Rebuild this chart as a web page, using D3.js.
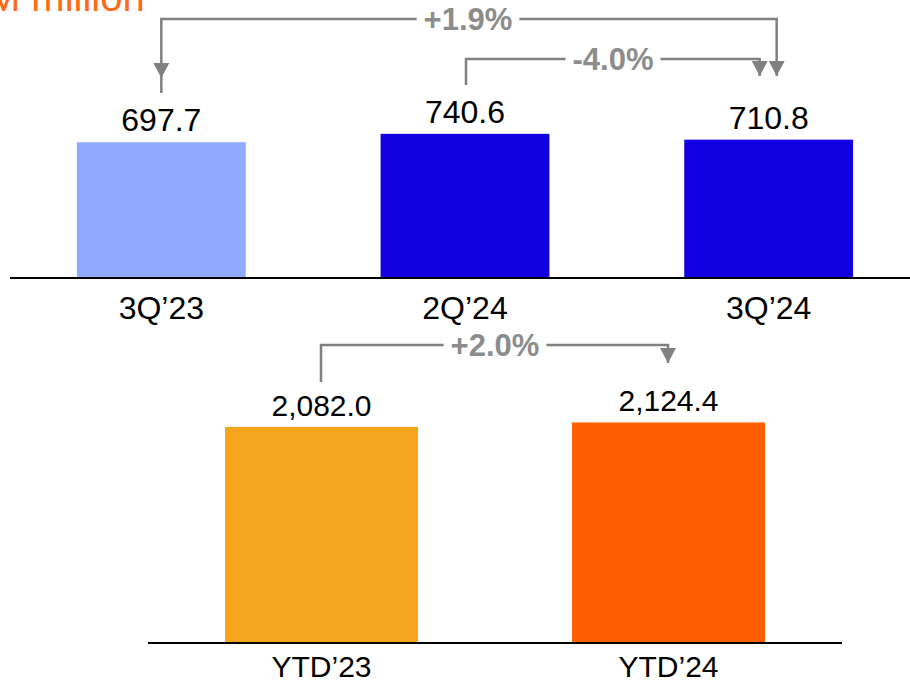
<!DOCTYPE html>
<html>
<head>
<meta charset="utf-8">
<script src="https://cdn.jsdelivr.net/npm/d3@7/dist/d3.min.js"></script>
<style>
  html, body { margin: 0; padding: 0; background: #fff; }
  svg { display: block; }
  text { font-family: Arial, "Liberation Sans", sans-serif; }
</style>
</head>
<body>
<script>
// Quarterly revenue (RM million)
const quarterCategories = ["3Q\u201923", "2Q\u201924", "3Q\u201924"];
const quarterValues = [697.7, 740.6, 710.8];
const quarterColors = ["#90aaff", "#1200e0", "#1200e0"];

// Year-to-date revenue (RM million)
const ytdCategories = ["YTD\u201923", "YTD\u201924"];
const ytdValues = [2082.0, 2124.4];
const ytdColors = ["#f5a41d", "#ff5f00"];

// Change brackets: [from index, to index, label]
const quarterChanges = [
  { from: 0, to: 2, label: "+1.9%" },
  { from: 1, to: 2, label: "-4.0%" }
];
const ytdChanges = [
  { from: 0, to: 1, label: "+2.0%" }
];

const unitLabel = "RM million";

const W = 910, H = 683;
const svg = d3.select("body").append("svg").attr("width", W).attr("height", H);

const fmt = d3.format(",.1f");
const GREY = "#808080";

svg.append("defs").append("marker")
  .attr("id", "arrow")
  .attr("viewBox", "0 0 16 15")
  .attr("refX", 8).attr("refY", 15)
  .attr("markerWidth", 16).attr("markerHeight", 15)
  .attr("markerUnits", "userSpaceOnUse")
  .attr("orient", 0)
  .append("path").attr("d", "M0,0 L16,0 L8,15 Z").attr("fill", GREY);

// Unit title (partly outside the left/top edge)
svg.append("text")
  .attr("x", -42).attr("y", 11)
  .attr("font-size", 40)
  .attr("fill", "#ff6a13")
  .text(unitLabel);

function drawPanel(cfg) {
  const x = d3.scaleBand().domain(cfg.categories)
    .range(cfg.xRange).paddingInner(0.444).paddingOuter(0.222);
  const y = d3.scaleLinear().domain(cfg.yDomain).range(cfg.yRange);
  const g = svg.append("g");

  g.selectAll("rect.bar").data(cfg.values).join("rect")
    .attr("class", "bar")
    .attr("x", (d, i) => x(cfg.categories[i]))
    .attr("width", x.bandwidth())
    .attr("y", d => y(d))
    .attr("height", d => y(0) - y(d))
    .attr("fill", (d, i) => cfg.colors[i]);

  // baseline
  g.append("line")
    .attr("x1", cfg.lineX[0]).attr("x2", cfg.lineX[1])
    .attr("y1", y(0)).attr("y2", y(0))
    .attr("stroke", "#000").attr("stroke-width", 2);

  // value labels
  g.selectAll("text.val").data(cfg.values).join("text")
    .attr("class", "val")
    .attr("x", (d, i) => x(cfg.categories[i]) + x.bandwidth() / 2)
    .attr("y", d => y(d) - 11)
    .attr("text-anchor", "middle")
    .attr("font-size", cfg.fontSize)
    .attr("fill", "#000")
    .text(d => fmt(d));

  // category labels
  g.selectAll("text.cat").data(cfg.categories).join("text")
    .attr("class", "cat")
    .attr("x", d => x(d) + x.bandwidth() / 2)
    .attr("y", y(0) + cfg.catOffset)
    .attr("text-anchor", "middle")
    .attr("font-size", cfg.fontSize)
    .attr("fill", "#000")
    .text(d => d);

  // change brackets
  cfg.changes.forEach((c, k) => {
    const b = cfg.brackets[k];
    const x0 = x(cfg.categories[c.from]) + x.bandwidth() / 2 + b.dx0;
    const x1 = x(cfg.categories[c.to]) + x.bandwidth() / 2 + b.dx1;
    g.append("path")
      .attr("d", `M${x0},${b.y0} V${b.y} H${x1} V${b.y1 - 15}`)
      .attr("fill", "none")
      .attr("stroke", GREY).attr("stroke-width", 2.5)
      .attr("marker-end", "url(#arrow)");
    if (b.startArrow) {
      g.append("path")
        .attr("d", `M${x0},${b.y} V${b.y0 - 15}`)
        .attr("fill", "none").attr("stroke", "none")
        .attr("marker-end", "url(#arrow)");
    }
    const lbl = g.append("text")
      .attr("x", b.lx).attr("y", b.y + 11)
      .attr("text-anchor", "middle")
      .attr("font-size", 31).attr("font-weight", "bold")
      .attr("fill", "#8c8c8c")
      .text(c.label);
    const bb = lbl.node().getBBox();
    g.insert("rect", () => lbl.node())
      .attr("x", bb.x - 7).attr("y", b.y - 4)
      .attr("width", bb.width + 14).attr("height", 8)
      .attr("fill", "#fff");
  });
}

drawPanel({
  categories: quarterCategories,
  values: quarterValues,
  colors: quarterColors,
  xRange: [9.5, 920.5],
  yDomain: [0, 800],
  yRange: [278, 122.3],
  lineX: [10, 910],
  fontSize: 32,
  catOffset: 41,
  changes: quarterChanges,
  brackets: [
    { y: 19, y0: 93, y1: 91, dx0: 0, dx1: 8, lx: 468, startArrow: true },
    { y: 59, y0: 85, y1: 91, dx0: 1, dx1: -9, lx: 613, startArrow: false }
  ]
});

drawPanel({
  categories: ytdCategories,
  values: ytdValues,
  colors: ytdColors,
  xRange: [148, 842],
  yDomain: [0, 2200],
  yRange: [643, 414.6],
  lineX: [148, 842],
  fontSize: 30,
  catOffset: 34,
  changes: ytdChanges,
  brackets: [
    { y: 345, y0: 382, y1: 378, dx0: -0.5, dx1: -0.5, lx: 495, startArrow: false }
  ]
});
</script>
</body>
</html>
